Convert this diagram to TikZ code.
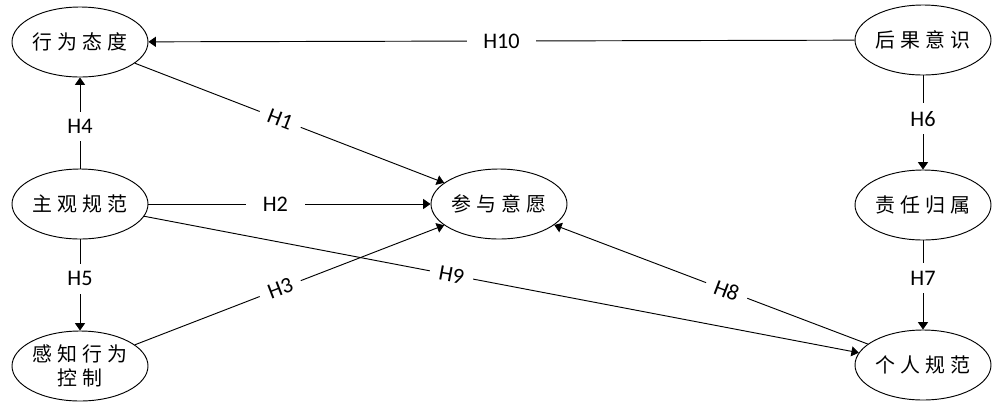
\documentclass[tikz,border=0pt]{standalone}
\usepackage{fontspec}
\setmainfont{Carlito}
\newfontfamily\cjk[LetterSpace=25]{Noto Sans CJK SC}
\usetikzlibrary{arrows.meta,shapes.geometric}
\tikzset{
  >={Triangle[length=2.2mm,width=3mm]},
  construct/.style={ellipse,draw,line width=0.8pt,inner sep=0pt,
    minimum width=40.8mm,minimum height=21mm,align=center,
    font=\cjk\fontsize{17pt}{21pt}\selectfont},
  hyp/.style={->,line width=0.8pt},
  hlab/.style={fill=white,inner xsep=5mm,inner ysep=2.3mm,font=\fontsize{19pt}{22pt}\selectfont},
  slab/.style={hlab,sloped,inner xsep=2.8mm},
}
\begin{document}
\begin{tikzpicture}[x=0.3mm,y=-0.3mm]
  \useasboundingbox (0,0) rectangle (999,402);
  % constructs, left column
  \node[construct] (att) at (80,42) {行为态度};
  \node[construct] (sn) at (80,204) {主观规范};
  \node[construct] (pbc) at (80,366) {感知行为\\控制};
  % centre
  \node[construct] (int) at (499,204) {参与意愿};
  % right column
  \node[construct] (ac) at (923,40) {后果意识};
  \node[construct] (ar) at (923,205) {责任归属};
  \node[construct] (pn) at (923,365) {个人规范};
  % hypotheses
  \draw[hyp] (att) -- node[slab,pos=0.47] {H1} (int);
  \draw[hyp] (sn) -- node[hlab,pos=0.45] {H2} (int);
  \draw[hyp] (pbc) -- node[slab,pos=0.47] {H3} (int);
  \draw[hyp] (sn) -- node[hlab,pos=0.46] {H4} (att);
  \draw[hyp] (sn) -- node[hlab,pos=0.43] {H5} (pbc);
  \draw[hyp] (ac) -- node[hlab,pos=0.46] {H6} (ar);
  \draw[hyp] (ar) -- node[hlab,pos=0.42] {H7} (pn);
  \draw[hyp] (pn) -- node[slab,pos=0.45] {H8} (int);
  \draw[hyp] (sn) -- node[slab,pos=0.43] {H9} (pn);
  \draw[hyp] (ac) -- node[hlab] {H10} (att);
\end{tikzpicture}
\end{document}
